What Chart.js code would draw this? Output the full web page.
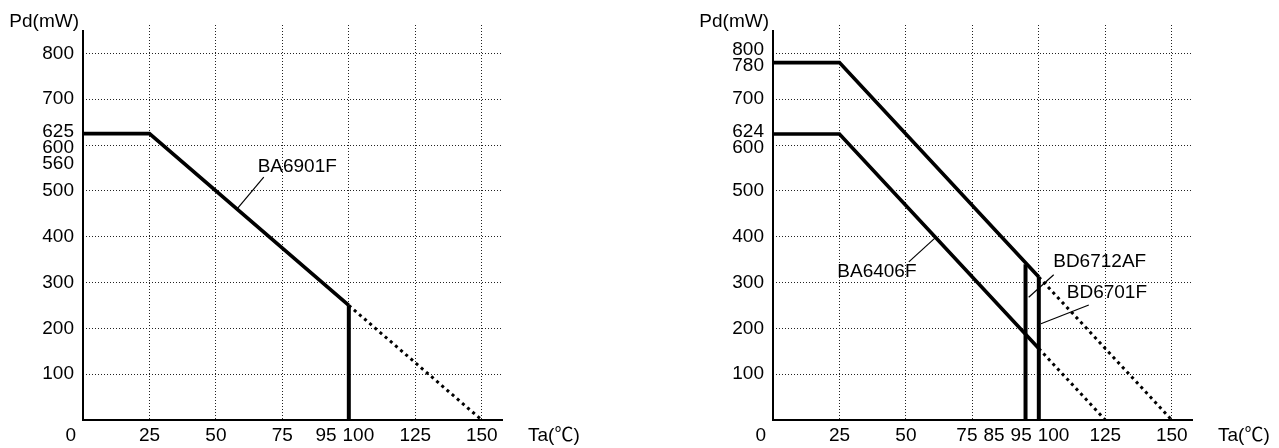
<!DOCTYPE html>
<html><head><meta charset="utf-8">
<script src="https://cdn.jsdelivr.net/npm/chart.js@4/dist/chart.umd.min.js"></script>
<style>
html,body{margin:0;padding:0;background:#fff;width:1279px;height:448px;overflow:hidden}
canvas{position:absolute;top:0}
#c1{left:0}#c2{left:640px}
</style></head><body>
<canvas id="c1" width="640" height="448"></canvas>
<canvas id="c2" width="639" height="448"></canvas>
<script>
// ---------------- data ----------------
const gridTemps = [0, 25, 50, 75, 100, 125, 150];
const gridPd = [0, 100, 200, 300, 400, 500, 600, 700, 800];

const leftXTickLabels = [0, 25, 50, 75, 95, 100, 125, 150];
const leftYTickLabels = [100, 200, 300, 400, 500, 560, 600, 625, 700, 800];
const rightXTickLabels = [0, 25, 50, 75, 85, 95, 100, 125, 150];
const rightYTickLabels = [100, 200, 300, 400, 500, 600, 624, 700, 780, 800];

// BA6901F (left chart)
const ba6901Temps = [0, 25, 100];
const ba6901Pd = [625, 625, 250];
const ba6901DerateTemps = [100, 150];
const ba6901DeratePd = [250, 0];
const ba6901LimitTemps = [100, 100];
const ba6901LimitPd = [0, 250];

// BD6712AF / BD6701F (right chart, upper curve)
const bd67Temps = [0, 25, 100];
const bd67Pd = [780, 780, 312];
const bd67DerateTemps = [100, 150];
const bd67DeratePd = [312, 0];
// BA6406F (right chart, lower curve)
const ba6406Temps = [0, 25, 100];
const ba6406Pd = [624, 624, 156];
const ba6406DerateTemps = [100, 125];
const ba6406DeratePd = [156, 0];
// limit lines
const bd6712LimitTemps = [95, 95];
const bd6712LimitPd = [0, 340];
const bd6701LimitTemps = [100, 100];
const bd6701LimitPd = [0, 312];

// annotations (text centre and leader line in data units)
const leftNotes = [
  {text: 'BA6901F', tx: 80.6, ty: 552, from: [57.9, 460], to: [68.0, 530]}
];
const rightNotes = [
  {text: 'BA6406F', tx: 39.1, ty: 323, from: [60.9, 397], to: [51.1, 345]},
  {text: 'BD6712AF', tx: 122.9, ty: 345, from: [96.2, 268], to: [105.6, 317]},
  {text: 'BD6701F', tx: 125.6, ty: 277, from: [100.8, 210], to: [118.8, 251]}
];

// ---------------- rendering ----------------
const FONT = '19px "Liberation Sans", Arial, "Noto Sans CJK JP", sans-serif';
const INK = '#000';

function pts(xs, ys) { return xs.map((x, i) => ({x: x, y: ys[i]})); }

function spread(items, gap) {
  items.sort((a, b) => a.pos - b.pos);
  for (let it = 0; it < 200; it++) {
    let moved = false;
    for (let i = 0; i < items.length - 1; i++) {
      const a = items[i], b = items[i + 1];
      const need = (a.size + b.size) / 2 + gap;
      const d = b.pos - a.pos;
      if (d < need - 0.01) { const s = (need - d) / 2; a.pos -= s; b.pos += s; moved = true; }
    }
    if (!moved) break;
  }
  return items;
}

const textPlugin = {
  id: 'pdText',
  afterDatasetsDraw(chart, args, o) {
    const ctx = chart.ctx, a = chart.chartArea, x = chart.scales.x, y = chart.scales.y;
    ctx.save();
    ctx.setLineDash([]);
    // axis lines
    ctx.strokeStyle = INK; ctx.lineWidth = 2;
    ctx.beginPath();
    ctx.moveTo(a.left, a.top + 5); ctx.lineTo(a.left, a.bottom); ctx.lineTo(a.right, a.bottom);
    ctx.stroke();

    ctx.font = FONT; ctx.fillStyle = INK; ctx.textBaseline = 'middle';
    // y tick labels
    const yItems = o.yLabels.map(v => ({v: v, pos: y.getPixelForValue(v), size: 14.5}));
    spread(yItems, 1.5);
    ctx.textAlign = 'right';
    yItems.forEach(it => ctx.fillText(String(it.v), a.left - 9, it.pos));
    // x tick labels
    const xLabelY = a.bottom + 16;
    const xItems = o.xLabels.filter(v => v !== 0)
      .map(v => ({v: v, pos: x.getPixelForValue(v), size: ctx.measureText(String(v)).width}));
    spread(xItems, 6);
    ctx.textAlign = 'center';
    xItems.forEach(it => ctx.fillText(String(it.v), it.pos, xLabelY));
    if (o.xLabels.includes(0)) { ctx.textAlign = 'right'; ctx.fillText('0', a.left - 7, xLabelY); }
    // axis titles
    ctx.textAlign = 'right'; ctx.fillText('Pd(mW)', a.left - 4, 22);
    ctx.textAlign = 'left'; ctx.fillText('Ta(\u2103)', a.right + 25, xLabelY);
    // annotations
    ctx.lineWidth = 1.2; ctx.strokeStyle = INK;
    o.notes.forEach(n => {
      ctx.beginPath();
      ctx.moveTo(x.getPixelForValue(n.from[0]), y.getPixelForValue(n.from[1]));
      ctx.lineTo(x.getPixelForValue(n.to[0]), y.getPixelForValue(n.to[1]));
      ctx.stroke();
      ctx.textAlign = 'center';
      ctx.fillText(n.text, x.getPixelForValue(n.tx), y.getPixelForValue(n.ty));
    });
    ctx.restore();
  }
};

function solid(xs, ys, w) {
  return {data: pts(xs, ys), borderColor: INK, borderWidth: w, pointRadius: 0, tension: 0,
          borderCapStyle: 'butt', borderJoinStyle: 'miter', fill: false};
}
function dotted(xs, ys) {
  return {data: pts(xs, ys), borderColor: INK, borderWidth: 3, pointRadius: 0, tension: 0,
          borderDash: [3, 3.8], borderCapStyle: 'butt', fill: false};
}

function makeChart(id, datasets, leftW, rightPad, xLabels, yLabels, notes) {
  return new Chart(document.getElementById(id), {
    type: 'line',
    data: {datasets: datasets},
    plugins: [textPlugin],
    options: {
      responsive: false, animation: false, parsing: true,
      layout: {padding: {top: 25, right: rightPad, left: 0, bottom: 0}},
      plugins: {legend: {display: false}, tooltip: {enabled: false},
                pdText: {xLabels: xLabels, yLabels: yLabels, notes: notes}},
      scales: {
        x: {type: 'linear', min: 0, max: 158,
            afterBuildTicks: s => { s.ticks = gridTemps.map(v => ({value: v})); },
            afterFit: s => { s.height = 28; },
            ticks: {display: false},
            grid: {color: c => (c.tick && c.tick.value === 0) ? 'rgba(0,0,0,0)' : '#222',
                   lineWidth: 1, drawTicks: false},
            border: {display: false, dash: [1, 2]}},
        y: {type: 'linear', min: 0, max: 862,
            afterBuildTicks: s => { s.ticks = gridPd.map(v => ({value: v})); },
            afterFit: s => { s.width = leftW; },
            ticks: {display: false},
            grid: {color: c => (c.tick && c.tick.value === 0) ? 'rgba(0,0,0,0)' : '#222',
                   lineWidth: 1, drawTicks: false},
            border: {display: false, dash: [1, 2]}}
      }
    }
  });
}

makeChart('c1', [
  solid(ba6901Temps, ba6901Pd, 3.6),
  dotted(ba6901DerateTemps, ba6901DeratePd),
  solid(ba6901LimitTemps, ba6901LimitPd, 4)
], 83, 137, leftXTickLabels, leftYTickLabels, leftNotes);

makeChart('c2', [
  solid(bd67Temps, bd67Pd, 3.6),
  dotted(bd67DerateTemps, bd67DeratePd),
  solid(ba6406Temps, ba6406Pd, 3.6),
  dotted(ba6406DerateTemps, ba6406DeratePd),
  solid(bd6712LimitTemps, bd6712LimitPd, 4),
  solid(bd6701LimitTemps, bd6701LimitPd, 4)
], 133, 86, rightXTickLabels, rightYTickLabels, rightNotes);
</script>
</body></html>
